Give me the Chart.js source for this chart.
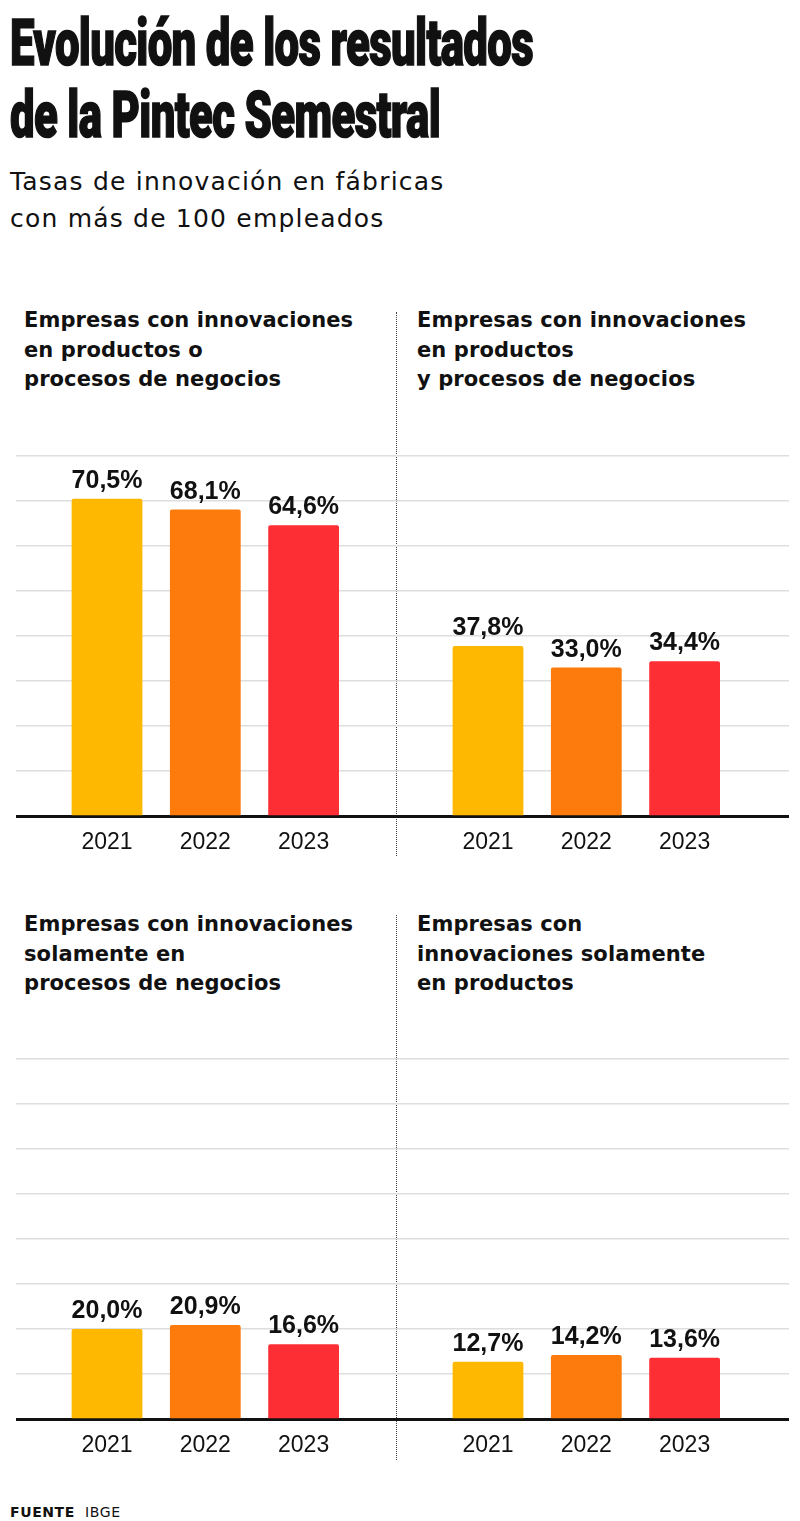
<!DOCTYPE html>
<html lang="es">
<head>
<meta charset="utf-8">
<script src="https://cdn.jsdelivr.net/npm/chart.js@4.4.1/dist/chart.umd.min.js"></script>
<style>
  html, body { margin: 0; padding: 0; background: #fff; }
  body { width: 800px; height: 1521px; position: relative; overflow: hidden; font-family: "DejaVu Sans", sans-serif; color: #111; }
  .abs { position: absolute; white-space: nowrap; }
  .titulo { font-family: "Roboto", "DejaVu Sans Condensed", sans-serif; font-weight: 900; font-size: 65px; line-height: 72px; left: 10px; transform-origin: left top; letter-spacing: -1px; -webkit-text-stroke: 1.6px #111; }
  .sub { font-size: 25px; line-height: 37px; left: 10px; letter-spacing: 1.2px; }
  .panel-title { font-weight: bold; font-size: 21px; line-height: 29.5px; letter-spacing: 0.1px; }
  .sep { position: absolute; left: 396px; width: 0; border-left: 1.5px dotted #444; }
  .chart-box { position: absolute; }
  .fuente { left: 10px; top: 1504px; font-size: 14px; line-height: 16px; letter-spacing: 0.6px; }
</style>
</head>
<body>
<div class="abs titulo" style="top:7px" data-w="523">Evolución de los resultados</div>
<div class="abs titulo" style="top:79px" data-w="430">de la Pintec Semestral</div>

<div class="abs sub" style="top:163px">Tasas de innovación en fábricas<br>con más de 100 empleados</div>

<div class="abs panel-title" style="left:24px; top:306px">Empresas con innovaciones<br>en productos o<br>procesos de negocios</div>
<div class="abs panel-title" style="left:417px; top:306px">Empresas con innovaciones<br>en productos<br>y procesos de negocios</div>
<div class="abs panel-title" style="left:24px; top:910px">Empresas con innovaciones<br>solamente en<br>procesos de negocios</div>
<div class="abs panel-title" style="left:417px; top:910px">Empresas con<br>innovaciones solamente<br>en productos</div>

<div class="sep" style="top:312px; height:544px"></div>
<div class="sep" style="top:915px; height:545px"></div>

<div class="chart-box" style="left:16px; top:446px; width:380px; height:420px"><canvas id="c1"></canvas></div>
<div class="chart-box" style="left:396px; top:446px; width:393px; height:420px"><canvas id="c2"></canvas></div>
<div class="chart-box" style="left:16px; top:1049px; width:380px; height:420px"><canvas id="c3"></canvas></div>
<div class="chart-box" style="left:396px; top:1049px; width:393px; height:420px"><canvas id="c4"></canvas></div>

<div class="abs fuente"><b>FUENTE</b>&nbsp; IBGE</div>

<script>
// Datos de la Pintec Semestral (tasas de innovación, %)
const years = ["2021", "2022", "2023"];
const productosOProcesos = [70.5, 68.1, 64.6];
const productosYProcesos = [37.8, 33.0, 34.4];
const soloProcesos = [20.0, 20.9, 16.6];
const soloProductos = [12.7, 14.2, 13.6];
const yMax = 80;
const yStep = 10;

const barColors = ["#FEB801", "#FD7B0C", "#FE2E35"];

// Ajustar el ancho del título
document.querySelectorAll("[data-w]").forEach(el => {
    let w = el.getBoundingClientRect().width;
    el.style.transform = `scaleX(${el.dataset.w / w})`;
});

// Etiquetas de valor encima de cada barra
const valueLabels = {
    id: "valueLabels",
    afterDatasetsDraw(chart) {
        let ctx = chart.ctx;
        let meta = chart.getDatasetMeta(0);
        ctx.save();
        ctx.font = "bold 25px 'Liberation Sans', Arial, sans-serif";
        ctx.fillStyle = "#111";
        ctx.textAlign = "center";
        ctx.textBaseline = "alphabetic";
        meta.data.forEach((bar, i) => {
            let v = chart.data.datasets[0].data[i].y;
            ctx.fillText(v.toFixed(1).replace(".", ",") + "%", bar.x, bar.y - 11);
        });
        ctx.restore();
    }
};

function makeChart(id, values, xMin, xMax) {
    let ctx = document.getElementById(id).getContext("2d");
    return new Chart(ctx, {
        type: "bar",
        data: {
            datasets: [{
                data: values.map((v, i) => ({ x: i, y: v })),
                backgroundColor: barColors,
                borderRadius: 2,
                borderSkipped: "bottom",
                categoryPercentage: 0.8,
                barPercentage: 0.9
            }]
        },
        options: {
            responsive: true,
            maintainAspectRatio: false,
            animation: false,
            layout: { padding: { top: 10, left: 0, right: 0, bottom: 0 } },
            plugins: {
                legend: { display: false },
                tooltip: { enabled: false }
            },
            scales: {
                x: {
                    type: "linear",
                    min: xMin,
                    max: xMax,
                    offset: false,
                    bounds: "data",
                    z: 1,
                    grid: { display: false, drawTicks: false, offset: false },
                    border: { display: true, color: "#111", width: 3 },
                    afterBuildTicks: scale => {
                        scale.ticks = years.map((_, i) => ({ value: i }));
                    },
                    afterFit: scale => { scale.height = 50; },
                    ticks: {
                        autoSkip: false,
                        maxRotation: 0,
                        padding: 13,
                        color: "#111",
                        font: { family: "'Liberation Sans', Arial, sans-serif", size: 23 },
                        callback: v => years[v]
                    }
                },
                y: {
                    min: 0,
                    max: yMax,
                    ticks: { display: false, stepSize: yStep },
                    grid: { color: "#dedede", lineWidth: 1.5, drawTicks: false },
                    border: { display: false },
                    afterFit: scale => { scale.width = 0; }
                }
            }
        },
        plugins: [valueLabels]
    });
}

makeChart("c1", productosOProcesos, -0.926, 2.940);
makeChart("c2", productosYProcesos, -0.936, 3.062);
makeChart("c3", soloProcesos, -0.926, 2.940);
makeChart("c4", soloProductos, -0.936, 3.062);
</script>
</body>
</html>
